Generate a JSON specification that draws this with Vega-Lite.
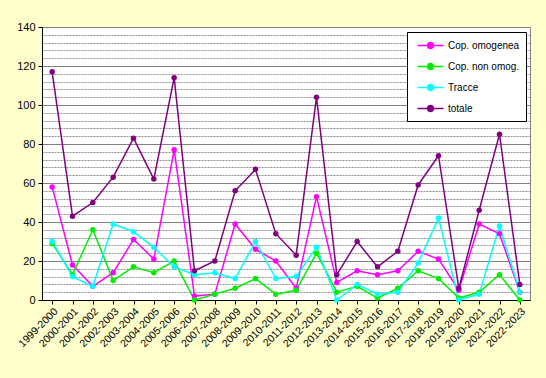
{
  "$schema": "https://vega.github.io/schema/vega-lite/v6.json",
  "width": 488,
  "height": 273,
  "autosize": {"type": "none"},
  "padding": {"left": 42, "top": 27, "right": 16, "bottom": 78},
  "background": "#FFFFCC",
  "config": {
    "font": "Liberation Sans",
    "view": {"stroke": "#808080", "strokeWidth": 1, "fill": "white"}
  },
  "data": {
    "values": [
      {"season": "1999-2000", "series": "Cop. omogenea", "value": 58},
      {"season": "2000-2001", "series": "Cop. omogenea", "value": 18},
      {"season": "2001-2002", "series": "Cop. omogenea", "value": 7},
      {"season": "2002-2003", "series": "Cop. omogenea", "value": 14},
      {"season": "2003-2004", "series": "Cop. omogenea", "value": 31},
      {"season": "2004-2005", "series": "Cop. omogenea", "value": 21},
      {"season": "2005-2006", "series": "Cop. omogenea", "value": 77},
      {"season": "2006-2007", "series": "Cop. omogenea", "value": 2},
      {"season": "2007-2008", "series": "Cop. omogenea", "value": 3},
      {"season": "2008-2009", "series": "Cop. omogenea", "value": 39},
      {"season": "2009-2010", "series": "Cop. omogenea", "value": 26},
      {"season": "2010-2011", "series": "Cop. omogenea", "value": 20},
      {"season": "2011-2012", "series": "Cop. omogenea", "value": 6},
      {"season": "2012-2013", "series": "Cop. omogenea", "value": 53},
      {"season": "2013-2014", "series": "Cop. omogenea", "value": 9},
      {"season": "2014-2015", "series": "Cop. omogenea", "value": 15},
      {"season": "2015-2016", "series": "Cop. omogenea", "value": 13},
      {"season": "2016-2017", "series": "Cop. omogenea", "value": 15},
      {"season": "2017-2018", "series": "Cop. omogenea", "value": 25},
      {"season": "2018-2019", "series": "Cop. omogenea", "value": 21},
      {"season": "2019-2020", "series": "Cop. omogenea", "value": 5},
      {"season": "2020-2021", "series": "Cop. omogenea", "value": 39},
      {"season": "2021-2022", "series": "Cop. omogenea", "value": 34},
      {"season": "2022-2023", "series": "Cop. omogenea", "value": 4},
      {"season": "1999-2000", "series": "Cop. non omog.", "value": 29},
      {"season": "2000-2001", "series": "Cop. non omog.", "value": 13},
      {"season": "2001-2002", "series": "Cop. non omog.", "value": 36},
      {"season": "2002-2003", "series": "Cop. non omog.", "value": 10},
      {"season": "2003-2004", "series": "Cop. non omog.", "value": 17},
      {"season": "2004-2005", "series": "Cop. non omog.", "value": 14},
      {"season": "2005-2006", "series": "Cop. non omog.", "value": 20},
      {"season": "2006-2007", "series": "Cop. non omog.", "value": 0},
      {"season": "2007-2008", "series": "Cop. non omog.", "value": 3},
      {"season": "2008-2009", "series": "Cop. non omog.", "value": 6},
      {"season": "2009-2010", "series": "Cop. non omog.", "value": 11},
      {"season": "2010-2011", "series": "Cop. non omog.", "value": 3},
      {"season": "2011-2012", "series": "Cop. non omog.", "value": 5},
      {"season": "2012-2013", "series": "Cop. non omog.", "value": 24},
      {"season": "2013-2014", "series": "Cop. non omog.", "value": 4},
      {"season": "2014-2015", "series": "Cop. non omog.", "value": 7},
      {"season": "2015-2016", "series": "Cop. non omog.", "value": 1},
      {"season": "2016-2017", "series": "Cop. non omog.", "value": 6},
      {"season": "2017-2018", "series": "Cop. non omog.", "value": 15},
      {"season": "2018-2019", "series": "Cop. non omog.", "value": 11},
      {"season": "2019-2020", "series": "Cop. non omog.", "value": 1},
      {"season": "2020-2021", "series": "Cop. non omog.", "value": 4},
      {"season": "2021-2022", "series": "Cop. non omog.", "value": 13},
      {"season": "2022-2023", "series": "Cop. non omog.", "value": 0},
      {"season": "1999-2000", "series": "Tracce", "value": 30},
      {"season": "2000-2001", "series": "Tracce", "value": 12},
      {"season": "2001-2002", "series": "Tracce", "value": 7},
      {"season": "2002-2003", "series": "Tracce", "value": 39},
      {"season": "2003-2004", "series": "Tracce", "value": 35},
      {"season": "2004-2005", "series": "Tracce", "value": 27},
      {"season": "2005-2006", "series": "Tracce", "value": 17},
      {"season": "2006-2007", "series": "Tracce", "value": 13},
      {"season": "2007-2008", "series": "Tracce", "value": 14},
      {"season": "2008-2009", "series": "Tracce", "value": 11},
      {"season": "2009-2010", "series": "Tracce", "value": 30},
      {"season": "2010-2011", "series": "Tracce", "value": 11},
      {"season": "2011-2012", "series": "Tracce", "value": 12},
      {"season": "2012-2013", "series": "Tracce", "value": 27},
      {"season": "2013-2014", "series": "Tracce", "value": 0},
      {"season": "2014-2015", "series": "Tracce", "value": 8},
      {"season": "2015-2016", "series": "Tracce", "value": 3},
      {"season": "2016-2017", "series": "Tracce", "value": 4},
      {"season": "2017-2018", "series": "Tracce", "value": 19},
      {"season": "2018-2019", "series": "Tracce", "value": 42},
      {"season": "2019-2020", "series": "Tracce", "value": 0},
      {"season": "2020-2021", "series": "Tracce", "value": 3},
      {"season": "2021-2022", "series": "Tracce", "value": 38},
      {"season": "2022-2023", "series": "Tracce", "value": 4},
      {"season": "1999-2000", "series": "totale", "value": 117},
      {"season": "2000-2001", "series": "totale", "value": 43},
      {"season": "2001-2002", "series": "totale", "value": 50},
      {"season": "2002-2003", "series": "totale", "value": 63},
      {"season": "2003-2004", "series": "totale", "value": 83},
      {"season": "2004-2005", "series": "totale", "value": 62},
      {"season": "2005-2006", "series": "totale", "value": 114},
      {"season": "2006-2007", "series": "totale", "value": 15},
      {"season": "2007-2008", "series": "totale", "value": 20},
      {"season": "2008-2009", "series": "totale", "value": 56},
      {"season": "2009-2010", "series": "totale", "value": 67},
      {"season": "2010-2011", "series": "totale", "value": 34},
      {"season": "2011-2012", "series": "totale", "value": 23},
      {"season": "2012-2013", "series": "totale", "value": 104},
      {"season": "2013-2014", "series": "totale", "value": 13},
      {"season": "2014-2015", "series": "totale", "value": 30},
      {"season": "2015-2016", "series": "totale", "value": 17},
      {"season": "2016-2017", "series": "totale", "value": 25},
      {"season": "2017-2018", "series": "totale", "value": 59},
      {"season": "2018-2019", "series": "totale", "value": 74},
      {"season": "2019-2020", "series": "totale", "value": 6},
      {"season": "2020-2021", "series": "totale", "value": 46},
      {"season": "2021-2022", "series": "totale", "value": 85},
      {"season": "2022-2023", "series": "totale", "value": 8}
    ]
  },
  "mark": {
    "type": "line",
    "strokeWidth": 1.5,
    "point": {"filled": true, "size": 30}
  },
  "encoding": {
    "x": {
      "field": "season",
      "type": "ordinal",
      "sort": null,
      "axis": {
        "title": null,
        "labelAngle": -45,
        "labelAlign": "right",
        "labelBaseline": "top",
        "labelFontSize": 10.5,
        "labelColor": "black",
        "labelPadding": 2,
        "domainColor": "black",
        "tickColor": "black",
        "tickSize": 4,
        "grid": false
      }
    },
    "y": {
      "field": "value",
      "type": "quantitative",
      "scale": {"domain": [0, 140], "nice": false},
      "axis": {
        "title": null,
        "values": [0, 4, 8, 12, 16, 20, 24, 28, 32, 36, 40, 44, 48, 52, 56, 60, 64, 68, 72, 76, 80, 84, 88, 92, 96, 100, 104, 108, 112, 116, 120, 124, 128, 132, 136, 140],
        "labelExpr": "datum.value % 20 === 0 ? datum.label : ''",
        "labelFontSize": 11,
        "labelColor": "black",
        "labelPadding": 3,
        "domainColor": "black",
        "tickColor": "black",
        "tickSize": 4,
        "tickOpacity": {"condition": {"test": "datum.value % 20 === 0", "value": 1}, "value": 0},
        "grid": true,
        "gridColor": {"condition": {"test": "datum.value % 20 === 0", "value": "#808080"}, "value": "#909090"},
        "gridDash": {"condition": {"test": "datum.value % 20 === 0", "value": []}, "value": [2, 1]},
        "gridWidth": 1
      }
    },
    "color": {
      "field": "series",
      "type": "nominal",
      "sort": ["Cop. omogenea", "Cop. non omog.", "Tracce", "totale"],
      "scale": {
        "domain": ["Cop. omogenea", "Cop. non omog.", "Tracce", "totale"],
        "range": ["#FF00FF", "#00EE00", "#00FFFF", "#800080"]
      },
      "legend": {
        "title": null,
        "orient": "none",
        "legendX": 365,
        "legendY": 5,
        "fillColor": "white",
        "strokeColor": "black",
        "padding": 6,
        "rowPadding": 7,
        "labelFontSize": 10,
        "labelColor": "black",
        "symbolOffset": 10,
        "labelOffset": 10,
        "symbolType": "M-2,0H2M-0.46,0A0.46,0.46,0,1,0,0.46,0A0.46,0.46,0,1,0,-0.46,0Z",
        "symbolSize": 169,
        "symbolStrokeWidth": 1.5,
        "encode": {
          "symbols": {"update": {"fill": {"scale": "color", "field": "value"}}}
        }
      }
    }
  }
}
